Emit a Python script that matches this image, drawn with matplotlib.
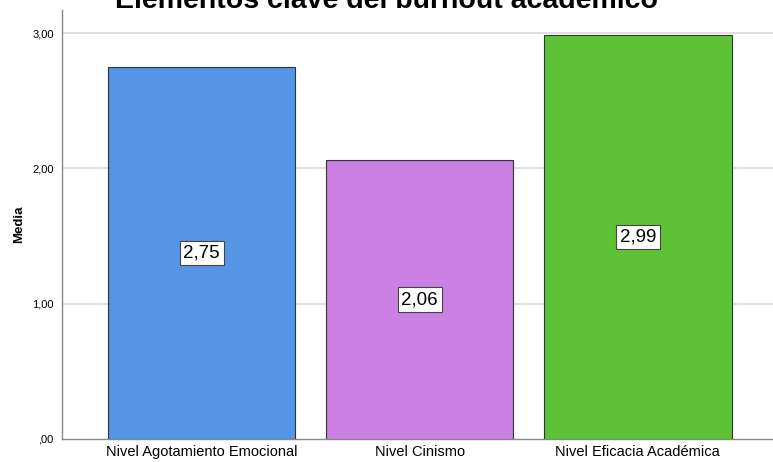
import numpy as np
import matplotlib.pyplot as plt

plt.rcParams['font.family'] = ['Liberation Sans', 'DejaVu Sans']

# Data
categories = ['Nivel Agotamiento Emocional', 'Nivel Cinismo', 'Nivel Eficacia Académica']
means = [2.75, 2.06, 2.99]
colors = ['#5495E5', '#CB7FE3', '#5EC237']
yticks = [0, 1, 2, 3]
ytick_labels = [',00', '1,00', '2,00', '3,00']

fig = plt.figure(figsize=(7.73, 4.62), dpi=100)
ax = fig.add_axes([0.0802, 0.0498, 0.9198, 0.928])

x = np.arange(len(categories))
ax.bar(x, means, width=0.86, color=colors, edgecolor='#333333', linewidth=0.8, zorder=3)

# value labels in the middle of each bar
for xi, m in zip(x, means):
    ax.text(xi, m / 2, f'{m:.2f}'.replace('.', ','), ha='center', va='center', fontsize=13.5,
            bbox=dict(boxstyle='square,pad=0.2', facecolor='white', edgecolor='#444444', linewidth=0.8),
            zorder=4)

ax.set_xlim(-0.64, 2.62)
ax.set_ylim(0, 3.17)
ax.set_yticks(yticks)
ax.set_yticklabels(ytick_labels, fontsize=8)
ax.set_xticks(x)
ax.set_xticklabels(categories, fontsize=10.5)
ax.tick_params(axis='both', length=0, pad=4)
ax.tick_params(axis='y', pad=6)

ax.set_ylabel('Media', fontsize=9.5, fontweight='bold', labelpad=5)

for yv in yticks[1:]:
    ax.axhline(yv, color='#D9D9D9', linewidth=1.2, zorder=1)

for side in ['top', 'right']:
    ax.spines[side].set_visible(False)
for side in ['left', 'bottom']:
    ax.spines[side].set_color('#888888')
    ax.spines[side].set_linewidth(1.0)

fig.text(0.5, 1 - 8 / 462, 'Elementos clave del burnout académico', ha='center', va='baseline',
         fontsize=20.5, fontweight='bold')

fig.savefig('out.png', dpi=100)
